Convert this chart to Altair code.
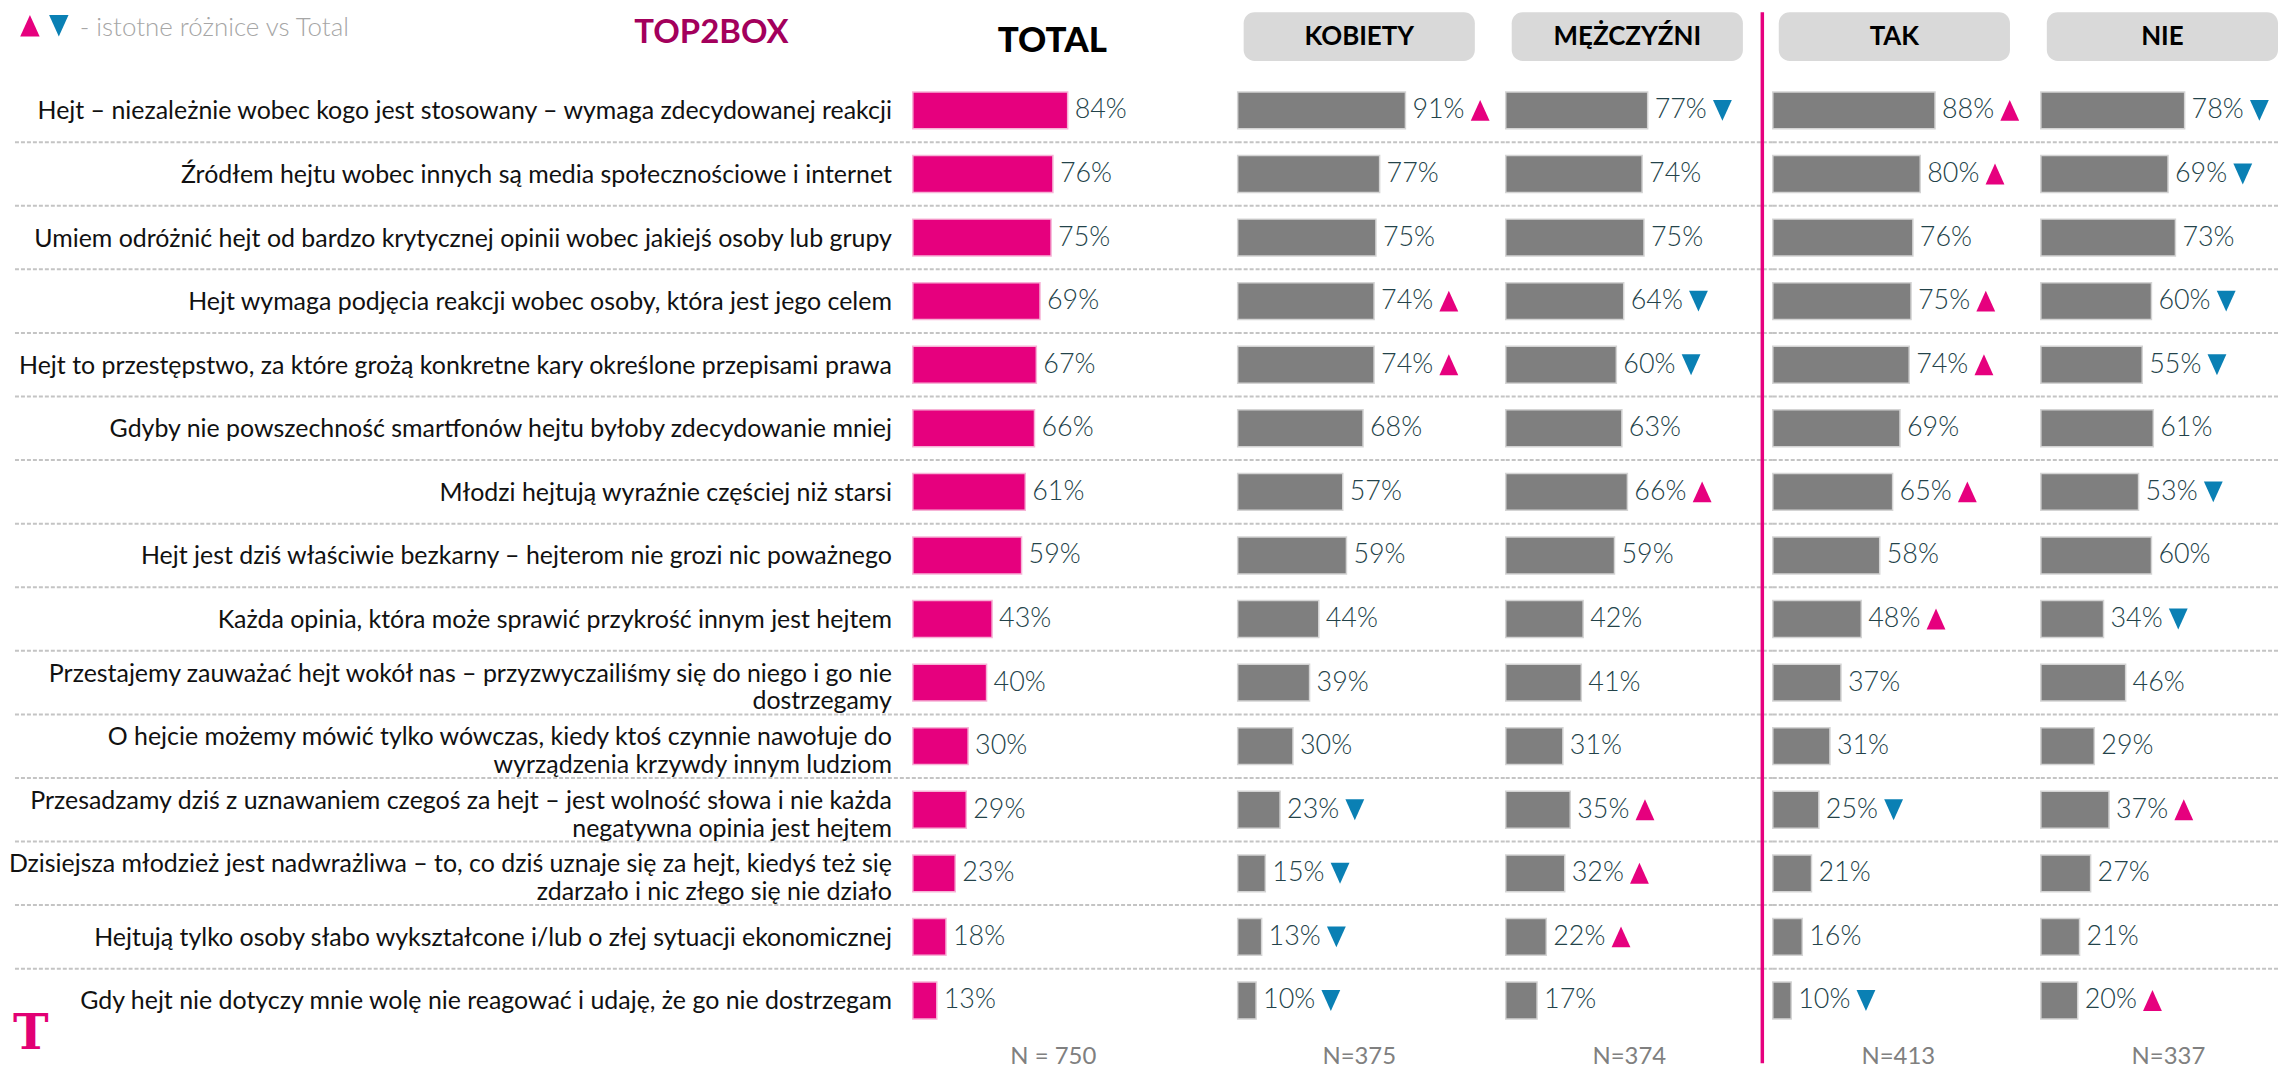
import altair as alt
import pandas as pd

statements = [
    "Hejt – niezależnie wobec kogo jest stosowany – wymaga zdecydowanej reakcji",
    "Źródłem hejtu wobec innych są media społecznościowe i internet",
    "Umiem odróżnić hejt od bardzo krytycznej opinii wobec jakiejś osoby lub grupy",
    "Hejt wymaga podjęcia reakcji wobec osoby, która jest jego celem",
    "Hejt to przestępstwo, za które grożą konkretne kary określone przepisami prawa",
    "Gdyby nie powszechność smartfonów hejtu byłoby zdecydowanie mniej",
    "Młodzi hejtują wyraźnie częściej niż starsi",
    "Hejt jest dziś właściwie bezkarny – hejterom nie grozi nic poważnego",
    "Każda opinia, która może sprawić przykrość innym jest hejtem",
    "Przestajemy zauważać hejt wokół nas – przyzwyczailiśmy się do niego i go nie\ndostrzegamy",
    "O hejcie możemy mówić tylko wówczas, kiedy ktoś czynnie nawołuje do\nwyrządzenia krzywdy innym ludziom",
    "Przesadzamy dziś z uznawaniem czegoś za hejt – jest wolność słowa i nie każda\nnegatywna opinia jest hejtem",
    "Dzisiejsza młodzież jest nadwrażliwa – to, co dziś uznaje się za hejt, kiedyś też się\nzdarzało i nic złego się nie działo",
    "Hejtują tylko osoby słabo wykształcone i/lub o złej sytuacji ekonomicznej",
    "Gdy hejt nie dotyczy mnie wolę nie reagować i udaję, że go nie dostrzegam",
]

total = [84, 76, 75, 69, 67, 66, 61, 59, 43, 40, 30, 29, 23, 18, 13]
kobiety = [91, 77, 75, 74, 74, 68, 57, 59, 44, 39, 30, 23, 15, 13, 10]
kobiety_sig = ["up", "", "", "up", "up", "", "", "", "", "", "", "down", "down", "down", "down"]
mezczyzni = [77, 74, 75, 64, 60, 63, 66, 59, 42, 41, 31, 35, 32, 22, 17]
mezczyzni_sig = ["down", "", "", "down", "down", "", "up", "", "", "", "", "up", "up", "up", ""]
tak = [88, 80, 76, 75, 74, 69, 65, 58, 48, 37, 31, 25, 21, 16, 10]
tak_sig = ["up", "up", "", "up", "up", "", "up", "", "up", "", "", "down", "", "", "down"]
nie = [78, 69, 73, 60, 55, 61, 53, 60, 34, 46, 29, 37, 27, 21, 20]
nie_sig = ["down", "down", "", "down", "down", "", "down", "", "down", "", "", "up", "", "", "up"]

group_names = ["KOBIETY", "MĘŻCZYŹNI", "TAK", "NIE"]
group_n = ["N=375", "N=374", "N=413", "N=337"]
total_n = "N = 750"

PINK = "#e6007e"
BLUE = "#0a80b4"
GRAY_BAR = "#7f7f7f"
VAL_COLOR = "#23434a"
FONT = "Lato"

PX = 1.85          # pixels per percentage point
H = 957
NROW = len(statements)
STEP = H / NROW
ROWS = list(range(NROW))
TOP = -66.6        # top of the page area relative to plot
UP = "M-0.9,1L0.9,1L0,-1Z"
DOWN = "M-0.9,-1L0.9,-1L0,1Z"

yscale = alt.Scale(domain=ROWS, paddingInner=0.42, paddingOuter=0.21)
Y = alt.Y("row:O", scale=yscale, axis=None)


def make_df(values, sig):
    return pd.DataFrame({
        "row": ROWS,
        "label": statements,
        "multi": ["\n" in s for s in statements],
        "value": values,
        "sig": sig,
        "txt": [f"{v}%" for v in values],
    })


def panel(df, width, bar_color, bar_stroke, left_extent, header, n_label, n_x):
    base = alt.Chart(df)
    X = alt.X("value:Q", scale=alt.Scale(domain=[0, width / PX], nice=False, zero=True), axis=None)

    rules = base.transform_filter(f"datum.row < {NROW - 1}").mark_rule(
        color="#c4c4c4", strokeWidth=2, strokeDash=[4, 2], yOffset=STEP / 2
    ).encode(y=Y, x=alt.value(left_extent), x2=alt.value(width))

    bars = base.mark_bar(color=bar_color, stroke=bar_stroke, strokeWidth=1.5).encode(x=X, y=Y)

    vals = base.mark_text(
        align="left", baseline="middle", dx=7, font=FONT, fontSize=27,
        fontWeight=300, color=VAL_COLOR
    ).encode(x=X, y=Y, text="txt:N")

    ups = base.transform_filter("datum.sig == 'up'").mark_point(
        shape=UP, filled=True, size=441, opacity=1, color=PINK, xOffset=75, strokeWidth=0
    ).encode(x=X, y=Y)
    downs = base.transform_filter("datum.sig == 'down'").mark_point(
        shape=DOWN, filled=True, size=441, opacity=1, color=BLUE, xOffset=75, strokeWidth=0
    ).encode(x=X, y=Y)

    nlab = alt.Chart(pd.DataFrame({"t": [n_label]})).mark_text(
        align="center", baseline="middle", font=FONT, fontSize=24, color="#808080"
    ).encode(x=alt.value(n_x), y=alt.value(H + 25), text="t:N")

    layers = [rules, bars, vals, ups, downs, nlab] + header
    return alt.layer(*layers).properties(width=width, height=H)


# ---- TOTAL panel ----
W0 = 326
df_total = make_df(total, [""] * NROW)

cat_single = alt.Chart(df_total).transform_filter("!datum.multi").mark_text(
    align="right", baseline="middle", font=FONT, fontSize=25, color="#111111", dy=1
).encode(x=alt.value(-21), y=Y, text="label:N")
cat_multi = alt.Chart(df_total).transform_filter("datum.multi").mark_text(
    align="right", baseline="middle", font=FONT, fontSize=25, color="#111111",
    lineBreak="\n", lineHeight=28, dy=-9
).encode(x=alt.value(-21), y=Y, text="label:N")

legend_up = alt.Chart(pd.DataFrame({"t": ["u"]})).mark_point(
    shape=UP, filled=True, size=470, opacity=1, color=PINK, strokeWidth=0
).encode(x=alt.value(-886), y=alt.value(-53))
legend_down = alt.Chart(pd.DataFrame({"t": ["d"]})).mark_point(
    shape=DOWN, filled=True, size=470, opacity=1, color=BLUE, strokeWidth=0
).encode(x=alt.value(-857), y=alt.value(-53))
legend_txt = alt.Chart(pd.DataFrame({"t": ["- istotne różnice vs Total"]})).mark_text(
    align="left", baseline="middle", font=FONT, fontSize=26, fontWeight=300, color="#a6a6a6"
).encode(x=alt.value(-836), y=alt.value(-51), text="t:N")
top2box = alt.Chart(pd.DataFrame({"t": ["TOP2BOX"]})).mark_text(
    align="center", baseline="middle", font=FONT, fontSize=33, fontWeight="bold", color="#a3005c"
).encode(x=alt.value(-202), y=alt.value(-46), text="t:N")
total_title = alt.Chart(pd.DataFrame({"t": ["TOTAL"]})).mark_text(
    align="center", baseline="middle", font=FONT, fontSize=35, fontWeight=900, color="#000000"
).encode(x=alt.value(140), y=alt.value(-38), text="t:N")
logo = alt.Chart(pd.DataFrame({"t": ["T"]})).mark_text(
    align="left", baseline="alphabetic", font="DejaVu Serif", fontSize=48, fontWeight="bold", color="#e20074"
).encode(x=alt.value(-903), y=alt.value(974), text="t:N")

p_total = panel(
    df_total, W0, PINK, "#f6b3d6", -901,
    [cat_single, cat_multi, legend_up, legend_down, legend_txt, top2box, total_title, logo],
    total_n, 141,
)

# ---- group panels ----
widths = [269, 268, 269, 239]
series = [(kobiety, kobiety_sig), (mezczyzni, mezczyzni_sig), (tak, tak_sig), (nie, nie_sig)]
panels = [p_total]
for i, (name, (vals, sig)) in enumerate(zip(group_names, series)):
    w = widths[i]
    hdr = alt.Chart(pd.DataFrame({"t": [name]}))
    box = hdr.mark_rect(color="#d9d9d9", cornerRadius=11).encode(
        x=alt.value(6), x2=alt.value(238), y=alt.value(TOP), y2=alt.value(-17.6)
    )
    btxt = hdr.mark_text(
        align="center", baseline="middle", font=FONT, fontSize=26, fontWeight="bold", color="#000000"
    ).encode(x=alt.value(122), y=alt.value(-42), text="t:N")
    header = [box, btxt]
    if i == 2:
        vline = hdr.mark_rule(color=PINK, strokeWidth=3.5).encode(
            x=alt.value(-10.5), y=alt.value(TOP), y2=alt.value(H + 31)
        )
        header.append(vline)
    panels.append(panel(make_df(vals, sig), w, GRAY_BAR, "#d4d4d4", 0, header, group_n[i], 122 + i * 2))

chart = alt.hconcat(*panels, spacing=0, bounds="flush").resolve_scale(
    x="independent", y="independent"
).properties(padding=0).configure_view(stroke=None)

chart.save("out.html", embed_options={"renderer": "svg", "actions": False})
